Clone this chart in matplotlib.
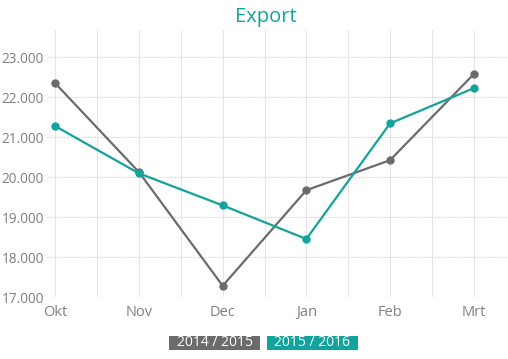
import matplotlib.pyplot as plt
from matplotlib.patches import Rectangle
from matplotlib.ticker import FuncFormatter, MultipleLocator

months = ["Okt", "Nov", "Dec", "Jan", "Feb", "Mrt"]
export_1415 = [22340, 20120, 17280, 19670, 20420, 22570]
export_1516 = [21270, 20090, 19290, 18450, 21340, 22220]
series_names = ["2014 / 2015", "2015 / 2016"]

gray = "#6b6b6b"
teal = "#12a39c"

plt.rcParams['font.family'] = ['Open Sans', 'DejaVu Sans']

fig = plt.figure(figsize=(5.08, 3.59), dpi=100)
ax = fig.add_axes([0.0925, 0.1727, 0.9075, 0.7437])

x = list(range(len(months)))
ax.plot(x, export_1415, color=gray, lw=1.6, marker="o", ms=5, zorder=3)
ax.plot(x, export_1516, color=teal, lw=1.6, marker="o", ms=5, zorder=3)

ax.set_xlim(-0.1, 5.41)
ax.set_ylim(17000, 23675)
ax.set_xticks(x)
ax.set_xticklabels(months)
ax.xaxis.set_minor_locator(MultipleLocator(0.5))
ax.set_yticks([17000, 18000, 19000, 20000, 21000, 22000, 23000])
ax.yaxis.set_major_formatter(FuncFormatter(lambda v, p: f"{int(v):,}".replace(",", ".")))

ax.grid(axis="x", which="both", color="#e6e6e6", lw=0.8)
ax.grid(axis="y", color="#dddddd", lw=0.8, ls=(0, (2, 1)))
ax.set_axisbelow(True)
for s in ax.spines.values():
    s.set_visible(False)
ax.tick_params(which="both", length=0, colors="#808080")
ax.tick_params(axis="y", pad=2, labelsize=9.8)
ax.tick_params(axis="x", pad=6, labelsize=10.5)

fig.text(0.524, 0.952, "Export", color=teal, fontsize=14.5, ha="center", va="center")

# legend boxes
for i, (name, col) in enumerate(zip(series_names, [gray, teal])):
    x0 = 0.3327 + i * 0.1929
    fig.patches.append(Rectangle((x0, 0.0251), 0.1791, 0.039, transform=fig.transFigure,
                                 fc=col, ec="none"))
    fig.text(x0 + 0.1791 / 2, 0.0446, name, color="white", fontsize=10, ha="center", va="center")

fig.savefig("out.png", dpi=100)
